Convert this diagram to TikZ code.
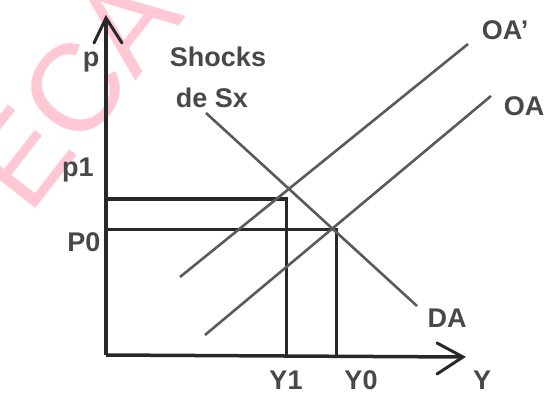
\documentclass[tikz,border=0pt]{standalone}
\usepackage{fontspec}
\setmainfont{Liberation Sans}
\usetikzlibrary{arrows.meta}
\definecolor{wm}{RGB}{255,200,212}
\definecolor{axc}{RGB}{40,40,40}
\definecolor{crv}{RGB}{90,90,90}
\tikzset{
  axis/.style={line width=3.5pt, draw=axc},
  guide/.style={line width=3pt, draw=axc},
  curve/.style={line width=2.6pt, draw=crv},
  lbl/.style={font=\fontsize{27}{30}\selectfont\bfseries, text=axc!85!white, inner sep=0pt},
  tip/.style={line width=3pt, draw=axc, line cap=round},
}
\begin{document}
\begin{tikzpicture}[x=1pt,y=-1pt]
\useasboundingbox (0,0) rectangle (545,395);
% watermark
\node[rotate=52, text=wm, font=\fontsize{124}{124}\selectfont, inner sep=0pt] (wmk) at (74,90) {ECA};
% axes
\coordinate (O) at (106,355);
\coordinate (ytop) at (106,18);
\coordinate (xend) at (463,357);
\draw[axis] (O) -- (ytop);
\draw[axis] (O) -- (xend);
\coordinate (ya) at (94,43);
\coordinate (yb) at (122,43);
\draw[tip] (ya) -- (ytop) -- (yb);
\coordinate (xa) at (437,343);
\coordinate (xb) at (437,374);
\draw[tip] (xa) -- (xend) -- (xb);
% guide lines
\coordinate (p1) at (106,199);
\coordinate (e1) at (286,199);
\coordinate (y1) at (286,355);
\coordinate (p0) at (106,229);
\coordinate (e0) at (336,229);
\coordinate (y0) at (336,355);
\draw[guide] (p1) -- (e1) -- (y1);
\draw[guide] (p0) -- (e0) -- (y0);
% curves
\coordinate (da0) at (206,113);
\coordinate (da1) at (417,306);
\coordinate (oap0) at (180,277);
\coordinate (oap1) at (468,44);
\coordinate (oa0) at (205,335);
\coordinate (oa1) at (491,96);
\draw[curve] (da0) -- (da1);
\draw[curve] (oap0) -- (oap1);
\draw[curve] (oa0) -- (oa1);
% labels
\node[lbl] (lP) at (91,62) {p};
\node[lbl] (lp1) at (78,170) {p1};
\node[lbl] (lP0) at (84,242) {P0};
\node[lbl] (lsh) at (218,57) {Shocks};
\node[lbl] (lde) at (212,98) {de Sx};
\node[lbl] (loap) at (505,30) {OA'};
\node[lbl] (loa) at (524,106) {OA};
\node[lbl] (lda) at (447,318) {DA};
\node[lbl] (ly1) at (286,380) {Y1};
\node[lbl] (ly0) at (361,380) {Y0};
\node[lbl] (ly) at (482,380) {Y};
\end{tikzpicture}
\end{document}
